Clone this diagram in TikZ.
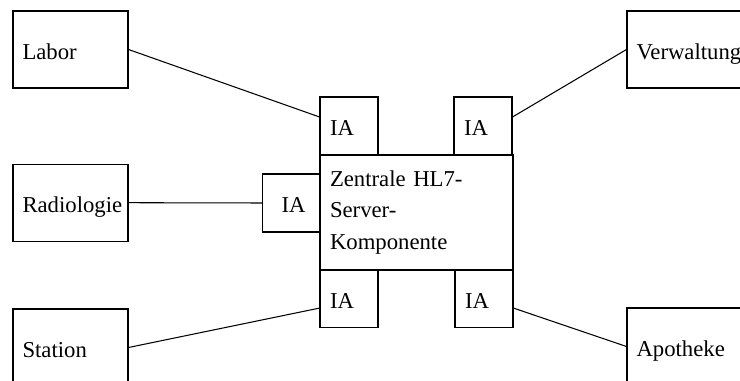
\documentclass[tikz,border=0pt]{standalone}
\usepackage{fontspec}
\setmainfont{Liberation Serif}
\usepackage{tikz}
\usetikzlibrary{arrows.meta}

\begin{document}
\hyphenpenalty=10000
\begin{tikzpicture}[x=0.02cm, y=-0.02cm, line width=0.6pt,
    font=\fontsize{12.93pt}{17.86pt}\selectfont,
    station/.style={draw, minimum width=2.3cm, minimum height=1.54cm, inner xsep=0.19cm,
      text width=1.92cm, align=left, text height=0.4cm, text depth=0cm},
    ia/.style={draw, minimum width=1.16cm, minimum height=1.16cm, inner xsep=0.2cm,
      text width=0.76cm, align=left, text height=0.4cm, text depth=0cm}]
  \clip (0,0) rectangle (740,381);
  %% Stationen links
  \node[station] (labor)   at (70.5,49.5)  {Labor};
  \node[station] (radio)   at (70.5,202.7) {Radiologie};
  \node[station] (stat)    at (70.5,347.5) {Station};
  %% Stationen rechts
  \node[station] (verw)    at (684.5,49.5)  {Verwaltung};
  \node[station] (apo)     at (684.5,346.5) {Apotheke};
  %% Server mit Interface-Adaptern
  \node[draw, minimum width=3.86cm, minimum height=2.3cm, inner xsep=0.2cm, text width=3.46cm, align=left]
    (hl7) at (416.5,212.5) {Zentrale HL7-\\Server-\\Komponente};
  \node[ia] (iaOL) at (349,126)   {IA};
  \node[ia] (iaOR) at (483,126)   {IA};
  \node[ia, inner xsep=0.38cm, text width=0.4cm] (iaL) at (291.5,203) {IA};
  \node[ia] (iaUL) at (349,298.5) {IA};
  \node[ia] (iaUR) at (484,298.5) {IA};
  %% Verbindungen
  \draw (labor.east) -- (iaOL.163);
  \draw (iaOR.17) -- (verw.west);
  \draw (radio.east) -- (iaL.west);
  \draw (stat.east) -- (iaUL.198);
  \draw (iaUR.342) -- (apo.west);
\end{tikzpicture}
\end{document}
